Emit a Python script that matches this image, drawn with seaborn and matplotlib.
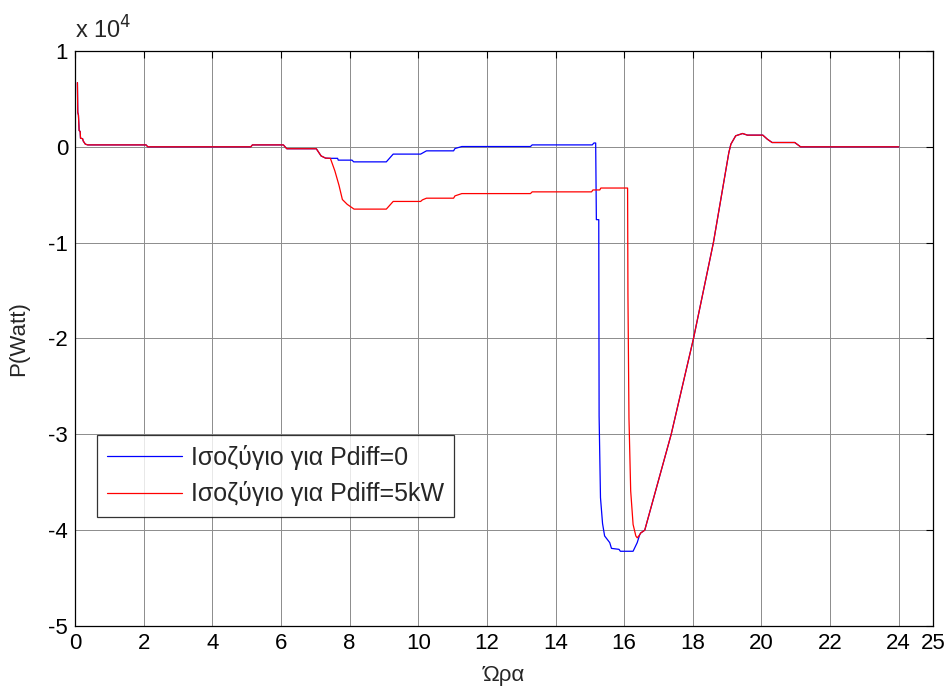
import numpy as np
import pandas as pd
import matplotlib
matplotlib.use("Agg")
import matplotlib.pyplot as plt
import seaborn as sns

# Common start (0 - 7.4 h), both series identical
hours_start = [0.07, 0.08, 0.1, 0.12, 0.15, 0.16, 0.22, 0.24, 0.3, 0.37, 2.07, 2.12, 5.12, 5.17, 6.07, 6.17, 7.03, 7.17, 7.3, 7.44]
p_start = [6700, 3600, 3300, 1700, 1600, 900, 850, 600, 280, 200, 200, 0, 0, 200, 200, -200, -200, -950, -1180, -1200]

# Pdiff = 0 (blue)
hours_blue = [7.65, 7.67, 8.07, 8.12, 9.07, 9.27, 10.07, 10.12, 10.24, 11.03, 11.07, 11.27, 13.27, 13.32, 15.07, 15.12, 15.17,
              15.19, 15.26, 15.27, 15.31, 15.37, 15.43, 15.58, 15.63, 15.85, 15.89, 16.26, 16.38, 16.45]
p_blue = [-1200, -1390, -1390, -1570, -1570, -760, -760, -660, -420, -420, -180, 30, 30, 200, 200, 400, 400,
          -7600, -7600, -28100, -36600, -39300, -40600, -41300, -41900, -42000, -42200, -42200, -41300, -40500]

# Pdiff = 5kW (red)
hours_red = [7.57, 7.69, 7.79, 7.93, 8.13, 9.07, 9.27, 10.07, 10.12, 10.24, 11.03, 11.07, 11.27, 13.27, 13.32, 15.05, 15.09,
             15.29, 15.32, 16.1, 16.11, 16.14, 16.19, 16.26, 16.34, 16.38, 16.45]
p_red = [-2500, -4000, -5500, -6000, -6500, -6500, -5700, -5700, -5540, -5360, -5360, -5120, -4880, -4880, -4700, -4700,
         -4500, -4500, -4300, -4300, -15400, -28300, -35900, -39400, -40600, -40800, -40500]

# Common end (after ~16.5 h)
hours_end = [16.48, 16.6, 17.37, 18.02, 18.6, 19.05, 19.11, 19.25, 19.45, 19.59, 20.04, 20.17, 20.31, 20.97, 21.14, 24.0]
p_end = [-40300, -40000, -30000, -20000, -10000, -600, 280, 1150, 1390, 1220, 1220, 800, 450, 450, 0, 0]

x_ticks = [0, 2, 4, 6, 8, 10, 12, 14, 16, 18, 20, 22, 24, 25]
y_ticks = [-5, -4, -3, -2, -1, 0, 1]
labels = ["Ισοζύγιο για Pdiff=0", "Ισοζύγιο για Pdiff=5kW"]

sns.set_style("white")
plt.rcParams['font.family'] = ['Liberation Sans', 'DejaVu Sans']
plt.rcParams['axes.unicode_minus'] = False

blue = pd.DataFrame({"h": hours_start + hours_blue + hours_end,
                     "p": np.array(p_start + p_blue + p_end) / 1e4})
red = pd.DataFrame({"h": hours_start + hours_red + hours_end,
                    "p": np.array(p_start + p_red + p_end) / 1e4})

fig = plt.figure(figsize=(9.52, 6.88), dpi=100)
ax = fig.add_axes([0.0788, 0.0901, 0.9013, 0.8358])

sns.lineplot(data=blue, x="h", y="p", sort=False, estimator=None, color="#0000ff", lw=0.9, ax=ax, label=labels[0])
sns.lineplot(data=red, x="h", y="p", sort=False, estimator=None, color="#ff0000", lw=0.9, ax=ax, label=labels[1])

ax.set_xlim(0, 25)
ax.set_ylim(-5, 1)
ax.set_xticks(x_ticks)
ax.set_yticks(y_ticks)
ax.grid(True, color="#8c8c8c", lw=0.7)
ax.tick_params(direction="in", top=True, right=True, labelsize=16, length=5, width=0.8, colors="black", pad=5)
for s in ax.spines.values():
    s.set_color("black")
    s.set_linewidth(0.9)
ax.set_xlabel("Ώρα", fontsize=16, labelpad=8)
ax.set_ylabel("P(Watt)", fontsize=16, labelpad=14)
ax.text(0.0, 1.012, r"x 10$^4$", transform=ax.transAxes, fontsize=17, ha="left", va="bottom")

leg = ax.legend(loc="lower left", bbox_to_anchor=(0.0256, 0.190), borderaxespad=0, fontsize=18, frameon=True,
                fancybox=False, edgecolor="black", handlelength=3.0, handletextpad=0.33, borderpad=0.42,
                labelspacing=0.45)
leg.get_frame().set_linewidth(0.9)

fig.savefig("out.png", dpi=100, facecolor="white")
